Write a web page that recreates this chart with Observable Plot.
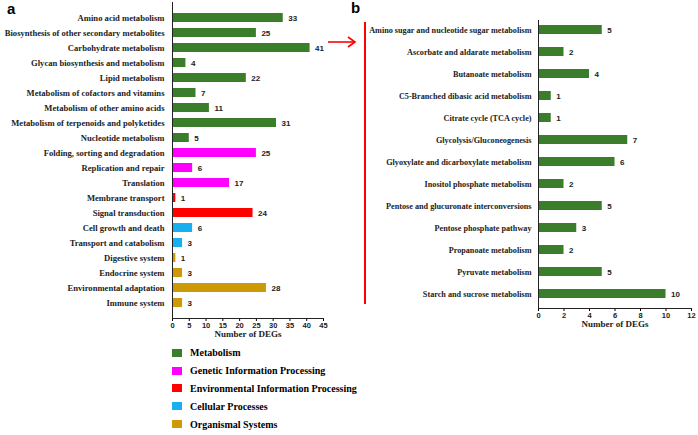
<!DOCTYPE html>
<html>
<head>
<meta charset="utf-8">
<script src="https://cdn.jsdelivr.net/npm/d3@7"></script>
<script src="https://cdn.jsdelivr.net/npm/@observablehq/plot@0.6"></script>
<style>
  html, body { margin: 0; padding: 0; background: #fff; }
  #wrap { position: relative; width: 698px; height: 435px; overflow: hidden; background: #fff; }
  #wrap svg { position: absolute; }
  .panel-label { position: absolute; font-family: "Liberation Sans", Arial, sans-serif; font-weight: bold; font-size: 15px; line-height: 1; }
  #legend { position: absolute; left: 172px; top: 344px; font-family: "Liberation Serif", "Times New Roman", serif; font-weight: bold; font-size: 10px; }
  .row { display: flex; align-items: center; height: 17.8px; }
  .sw { width: 10px; height: 8px; margin-right: 8px; }
</style>
</head>
<body>
<div id="wrap"></div>
<script>
// ---- data ----
const catsA = [
  "Amino acid metabolism",
  "Biosynthesis of other secondary metabolites",
  "Carbohydrate metabolism",
  "Glycan biosynthesis and metabolism",
  "Lipid metabolism",
  "Metabolism of cofactors and vitamins",
  "Metabolism of other amino acids",
  "Metabolism of terpenoids and polyketides",
  "Nucleotide metabolism",
  "Folding, sorting and degradation",
  "Replication and repair",
  "Translation",
  "Membrane transport",
  "Signal transduction",
  "Cell growth and death",
  "Transport and catabolism",
  "Digestive system",
  "Endocrine system",
  "Environmental adaptation",
  "Immune system"
];
const valsA = [33, 25, 41, 4, 22, 7, 11, 31, 5, 25, 6, 17, 1, 24, 6, 3, 1, 3, 28, 3];
const groupsA = [
  "Metabolism", "Metabolism", "Metabolism", "Metabolism", "Metabolism",
  "Metabolism", "Metabolism", "Metabolism", "Metabolism",
  "Genetic Information Processing", "Genetic Information Processing", "Genetic Information Processing",
  "Environmental Information Processing", "Environmental Information Processing",
  "Cellular Processes", "Cellular Processes",
  "Organismal Systems", "Organismal Systems", "Organismal Systems", "Organismal Systems"
];
const groupNames = [
  "Metabolism",
  "Genetic Information Processing",
  "Environmental Information Processing",
  "Cellular Processes",
  "Organismal Systems"
];
const groupColors = ["#3a7d2a", "#ff00ff", "#ff0000", "#19aef0", "#cc9a06"];

const catsB = [
  "Amino sugar and nucleotide sugar metabolism",
  "Ascorbate and aldarate metabolism",
  "Butanoate metabolism",
  "C5-Branched dibasic acid metabolism",
  "Citrate cycle (TCA cycle)",
  "Glycolysis/Gluconeogenesis",
  "Glyoxylate and dicarboxylate metabolism",
  "Inositol phosphate metabolism",
  "Pentose and glucuronate interconversions",
  "Pentose phosphate pathway",
  "Propanoate metabolism",
  "Pyruvate metabolism",
  "Starch and sucrose metabolism"
];
const valsB = [5, 2, 4, 1, 1, 7, 6, 2, 5, 3, 2, 5, 10];

const ticksA = [0, 5, 10, 15, 20, 25, 30, 35, 40, 45];
const ticksB = [0, 2, 4, 6, 8, 10, 12];
const xLabel = "Number of DEGs";

// ---- tables ----
const dataA = catsA.map((c, i) => ({cat: c, v: valsA[i], g: groupsA[i]}));
const dataB = catsB.map((c, i) => ({cat: c, v: valsB[i]}));

const serif = "Liberation Serif, Times New Roman, serif";
const sans = "Liberation Sans, Arial, sans-serif";
const wrap = document.getElementById("wrap");

// ---- panel a ----
const plotA = Plot.plot({
  width: 345, height: 341,
  marginLeft: 172, marginRight: 22, marginTop: 2, marginBottom: 23,
  style: {background: "transparent", overflow: "visible"},
  x: {domain: [0, 45], axis: null},
  y: {domain: catsA, range: [5.6, 314.3], paddingInner: 0.38, paddingOuter: 0, axis: null},
  color: {domain: groupNames, range: groupColors},
  marks: [
    Plot.barX(dataA, {y: "cat", x: "v", fill: "g"}),
    Plot.text(dataA, {y: "cat", x: "v", text: d => String(d.v), textAnchor: "start", dx: 5,
      fontFamily: sans, fontWeight: "bold", fontSize: 8, fill: "#222"}),
    Plot.axisY({tickSize: 0, tickPadding: 8, fontFamily: serif, fontWeight: "bold", fontSize: 8.6, fill: "#222", label: null}),
    Plot.axisX({ticks: ticksA, tickSize: 3, tickPadding: 1, fontFamily: sans, fontWeight: "bold", fontSize: 7.5, fill: "#222", label: null}),
    Plot.ruleX([0], {stroke: "#222", strokeWidth: 1}),
    Plot.frame({anchor: "bottom", stroke: "#222"}),
    Plot.text([xLabel], {frameAnchor: "bottom", dy: 18, fontFamily: serif, fontWeight: "bold", fontSize: 9, fill: "#222"})
  ]
});
plotA.style.left = "0px";
plotA.style.top = "0px";
wrap.appendChild(plotA);

// ---- panel b ----
const plotB = Plot.plot({
  width: 338, height: 340,
  marginLeft: 178, marginRight: 7, marginTop: 20, marginBottom: 32,
  style: {background: "transparent", overflow: "visible"},
  x: {domain: [0, 12], axis: null},
  y: {domain: catsB, range: [21, 302], paddingInner: 0.57, paddingOuter: 0, axis: null},
  marks: [
    Plot.barX(dataB, {y: "cat", x: "v", fill: groupColors[0]}),
    Plot.text(dataB, {y: "cat", x: "v", text: d => String(d.v), textAnchor: "start", dx: 5,
      fontFamily: sans, fontWeight: "bold", fontSize: 8, fill: "#222"}),
    Plot.axisY({tickSize: 0, tickPadding: 7, fontFamily: serif, fontWeight: "bold", fontSize: 8.2, fill: "#222", label: null}),
    Plot.axisX({ticks: ticksB, tickSize: 3, tickPadding: 1, fontFamily: sans, fontWeight: "bold", fontSize: 7.5, fill: "#222", label: null}),
    Plot.ruleX([0], {stroke: "#222", strokeWidth: 1}),
    Plot.frame({anchor: "bottom", stroke: "#222"}),
    Plot.text([xLabel], {frameAnchor: "bottom", dy: 18, fontFamily: serif, fontWeight: "bold", fontSize: 9, fill: "#222"})
  ]
});
plotB.style.left = "360px";
plotB.style.top = "0px";
wrap.appendChild(plotB);

// ---- panel letters ----
[["a", 7, 1], ["b", 351, 0]].forEach(([t, l, tp]) => {
  const d = document.createElement("div");
  d.className = "panel-label";
  d.textContent = t;
  d.style.left = l + "px";
  d.style.top = tp + "px";
  wrap.appendChild(d);
});

// ---- red arrow and bracket line ----
const ns = "http://www.w3.org/2000/svg";
const ov = document.createElementNS(ns, "svg");
ov.setAttribute("width", 698);
ov.setAttribute("height", 435);
ov.style.left = "0px"; ov.style.top = "0px";
ov.innerHTML = `
  <line x1="365" y1="22" x2="365" y2="304" stroke="#ff0000" stroke-width="2"/>
  <line x1="328" y1="42" x2="355" y2="42" stroke="#ff0000" stroke-width="1.6"/>
  <polyline points="348,37 355,42 348,47" fill="none" stroke="#ff0000" stroke-width="1.6"/>
`;
wrap.appendChild(ov);

// ---- legend ----
const leg = document.createElement("div");
leg.id = "legend";
groupNames.forEach((g, i) => {
  const r = document.createElement("div");
  r.className = "row";
  const s = document.createElement("span");
  s.className = "sw";
  s.style.background = groupColors[i];
  const t = document.createElement("span");
  t.textContent = g;
  r.appendChild(s); r.appendChild(t);
  leg.appendChild(r);
});
wrap.appendChild(leg);
</script>
</body>
</html>
